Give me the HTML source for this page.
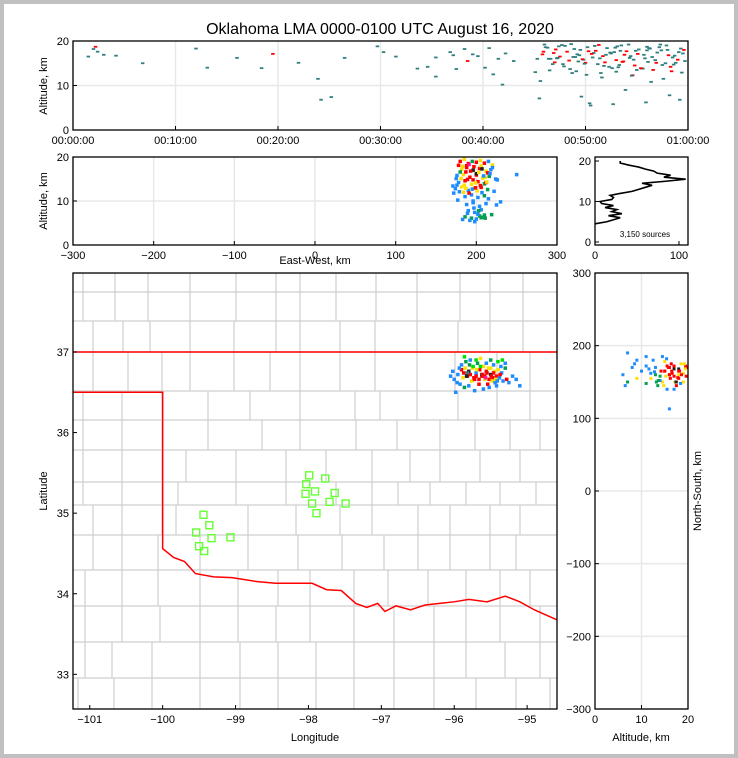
<!DOCTYPE html>
<html><head><meta charset="utf-8">
<style>
html,body{margin:0;padding:0;background:#fff}
body{width:738px;height:758px;overflow:hidden}
svg{display:block;font-family:"Liberation Sans","DejaVu Sans",sans-serif}
</style></head>
<body>
<svg id="fig" width="738" height="758" viewBox="0 0 738 758" xmlns="http://www.w3.org/2000/svg">
<rect x="0" y="0" width="738" height="758" fill="#c0c0c0"/>
<rect x="4" y="4" width="730" height="750" fill="#fff"/>
<text x="380" y="34" font-size="16" text-anchor="middle" fill="#000">Oklahoma LMA 0000-0100 UTC August 16, 2020</text>
<g id="layer"></g>
</svg>
<script>
// ---------- data ----------
const palette = ["#1e8cff","#00a050","#ffe000","#ff0000","#202020","#2f7f7f","#00e000","#ff1493"];
// top panel: minutes, altitude km, colorClass
const timeMinutes = [1.5,2,2.2,2.4,3,4.2,6.8,12,13.1,16,18.4,19.5,22,23.9,24.2,25.2,26.5,29.7,30.3,31.5,33.6,34.6,35.4,35.4,36.8,37.1,37.4,38.2,38.5,39,39.5,40.2,40.6,41,41.5,41.9,42.2,43,45.1,45.5,45.8,46.3,46.6,47,47.4,47.9,48.2,48.8,49.1,49.5,50,50.4,50.8,51.2,51.7,52.1,52.6,53,53.4,53.9,54.3,54.8,55.2,55.7,56.1,56.6,57,57.5,58,58.5,59,59.5,46,47.5,48.5,49.8,51,52.3,53.5,54.6,55.8,57.2,58.4,46.8,48,49.3,50.6,52,53.2,54,55,56.3,57.8,59.2,45.3,49,51.5,53.7,56,58.8,50.5,52.8,55.5,
  45.6,46.1,46.9,47.3,47.7,48.4,48.9,49.4,49.9,50.3,50.9,51.4,51.9,52.4,52.9,53.3,53.8,54.2,54.7,55.1,55.6,56.0,56.5,56.9,57.4,57.9,58.3,58.7,59.3,59.7,45.9,46.4,47.1,47.8,48.6,49.2,49.7,50.2,50.7,51.3,51.8,52.5,53.1,53.6,54.4,54.9,55.4,56.2,56.8,57.3,58.1,58.6,59.1,59.6,47.2,48.7,50.1,51.6,53.0,54.5,56.4,57.6,59.4,46.5,49.6,52.7,55.9,58.2];
const timeAlt = [16.5,18.2,18.7,17.6,16.9,16.7,15,18.3,14,16.2,13.9,17.1,15.1,11.5,6.8,7.4,16.2,18.8,17.5,16.5,13.8,14.2,16.3,12,17.5,16.8,13.7,18.2,15.5,17,16.6,14,18.4,12.5,16,10.2,17.2,15.5,13,7.1,17,18.5,16,15.2,18.8,14.3,17.6,16.4,13.2,18,15.1,6,17.3,14.8,16.6,18.4,13.9,15.7,17.8,9,16.2,14.5,18.1,16.9,15.3,13.5,17.4,14.6,18,16.3,15.8,17.2,19.2,16.5,13.7,15.8,17.8,14.2,19,12.3,16.1,18.6,13.2,14.8,18.9,15.4,17.1,16.9,14.1,17.7,13.5,18.3,15,6.8,16,16.4,12.8,15.4,17.9,15.1,5.5,17.5,13.8,11,
  18.6,17.3,16.2,19.1,15.6,18.2,16.8,14.9,17.7,18.9,16.1,15.2,17.4,18.5,14.6,16.9,19.2,15.8,17.1,13.8,18.7,16.4,15.1,17.9,19.0,14.2,16.7,18.3,15.5,17.6,16.0,18.1,14.8,19.3,17.0,15.9,18.6,16.3,19.1,14.4,17.2,18.8,15.3,16.6,17.8,13.9,18.4,15.7,19.2,16.8,14.7,17.5,18.0,16.1,12.8,12.4,11.8,13.1,12.2,10.8,11.5,12.9,13.4,7.5,5.8,6.2,7.8,5.5];
const timeColor = [5,5,3,5,5,5,5,5,5,5,5,3,5,5,5,5,5,5,5,5,5,5,5,5,5,5,5,5,3,5,5,5,5,5,5,5,5,5,5,5,3,5,5,3,5,5,3,5,5,5,3,5,5,5,3,5,5,3,5,5,5,3,5,5,5,3,5,5,5,5,3,5,5,3,5,5,3,5,5,3,5,5,3,5,5,5,3,5,5,3,5,5,5,5,5,5,5,3,5,5,5,5,3,5,
  5,3,5,5,3,5,5,5,3,5,5,3,5,5,5,3,5,5,3,5,5,5,3,5,5,3,5,5,5,3,5,3,5,5,5,3,5,5,3,5,5,5,3,5,5,3,5,5,5,3,5,5,3,5,5,5,5,5,5,5,5,5,5,5,5,5,5,5];
// east-west vs altitude
const ewKm = [180,185,190,195,200,205,210,215,220,182,188,196,204,212,218,176,184,192,200,208,216,224,178,186,194,202,210,174,182,190,198,206,214,222,186,194,202,210,188,196,204,212,190,198,206,186,194,200,208,192,198,204,210,196,202,206,230,250,172,226,180,200,214,188,206,196,184,212,176,220,
  178,183,187,191,197,203,207,211,217,181,189,193,199,205,209,213,179,185,191,195,201,207,215,171,175,189,203,219,225,183,197,211,177,187,199];
const ewAlt = [19,19.5,18.5,19,18.8,19.2,18.6,19,18.2,17.2,17.6,17,17.4,16.8,17.1,15.8,16,15.4,15.9,15.2,15.6,15,14.2,14.6,13.8,14.4,13.9,12.8,13.2,12.4,12.9,13.1,12.6,12.2,11,11.4,10.8,11.2,9.2,9.6,8.8,9.4,7.8,7.4,8,6.4,6.1,5.9,6.3,5.6,5.3,6.6,6.8,10,7,6.2,9.8,16,11.8,14.8,16.6,16.2,16.4,18,18,14.8,12,14.2,13.6,17.6,
  18.1,17.9,16.6,18.3,17.8,16.5,17.3,15.4,16.2,15.1,14.9,16.8,14.1,13.5,15.7,14.3,12.1,13.6,11.8,12.7,12.3,11.9,10.5,13.4,15.1,7.2,7.8,6.9,9.1,5.8,8.4,6.1,10.2,12.9,13.0];
const ewColor = [3,2,3,1,3,2,3,0,2,2,3,4,3,2,0,0,2,3,3,2,1,0,0,3,2,3,1,0,2,0,2,3,1,0,0,0,0,1,0,0,0,0,0,0,0,1,1,0,1,0,0,1,1,0,0,1,0,0,0,0,1,4,3,3,2,3,2,3,0,0,
  3,2,3,7,3,2,4,2,0,2,3,3,2,3,0,2,0,2,3,0,2,0,0,0,0,0,1,1,0,0,0,1,0,2,3];
// histogram
const histAlt = [4.5,5,5.5,6,6.5,7,7.5,8,8.5,9,9.5,10,10.5,11,11.5,12,12.5,13,13.5,14,14.5,15,15.5,16,16.5,17,17.5,18,18.5,19,19.5,20];
const histCount = [0,14,22,30,16,32,20,26,12,22,8,6,20,22,18,30,44,52,60,68,56,84,108,82,90,74,70,60,52,40,30,30];
const totalSources = "3,150 sources";
// plan view
const mapLon = [-95.9,-95.85,-95.8,-95.78,-95.75,-95.7,-95.68,-95.65,-95.62,-95.6,-95.55,-95.52,-95.5,-95.47,-95.45,-95.42,-95.4,-95.35,-95.3,-95.28,-95.95,-95.88,-95.82,-95.76,-95.72,-95.66,-95.58,-95.54,-95.48,-95.44,-95.38,-95.33,-95.9,-95.84,-95.78,-95.7,-95.64,-95.56,-95.5,-95.46,-95.4,-95.36,-96.0,-95.92,-95.86,-95.8,-95.6,-95.52,-95.42,-95.25,-95.2,-95.7,-95.62,-95.56,-95.46,-96.02,-95.96,-95.74,-95.5,-95.58,-95.66,-95.82,-95.3,-95.86,
  -95.87,-95.83,-95.73,-95.69,-95.61,-95.57,-95.49,-95.43,-95.37,-95.93,-95.79,-95.64,-95.53,-95.41,-96.05,-95.15,-95.1,-95.98,-95.72,-95.34];
const mapLat = [36.78,36.8,36.76,36.72,36.8,36.74,36.86,36.78,36.7,36.82,36.74,36.66,36.72,36.68,36.76,36.7,36.78,36.74,36.8,36.66,36.72,36.68,36.7,36.64,36.66,36.6,36.66,36.6,36.64,36.62,36.68,36.64,36.84,36.88,36.9,36.9,36.92,36.86,36.9,36.84,36.88,36.82,36.66,36.6,36.56,36.58,36.54,36.56,36.58,36.62,36.7,36.7,36.72,36.76,36.74,36.76,36.62,36.82,36.8,36.7,36.66,36.74,36.86,36.94,
  36.74,36.7,36.68,36.78,36.72,36.68,36.7,36.66,36.72,36.8,36.84,36.82,36.8,36.64,36.7,36.66,36.58,36.5,36.52,36.9];
const mapColor = [3,2,4,3,2,0,1,3,3,2,3,3,4,3,2,3,2,0,1,3,0,2,3,2,3,3,2,3,2,0,0,0,0,1,0,6,2,0,1,0,6,0,0,0,1,0,0,0,0,0,0,3,4,3,3,0,0,6,2,3,3,5,0,6,
  3,4,3,2,3,7,3,2,3,0,1,6,2,0,0,0,0,0,0,6];
// north-south vs altitude
const nsAlt = [6,7,8,9,10,11,12,13,14,15,16,17,18,19,19.5,6.5,8.5,12.5,14.5,15.5,16.5,17.5,18.5,13,14,15,16,17,18,19,15,16,17,18,16.2,17.2,18.2,19.2,7,9,11,13.5,15.5,17.5,11,12,16,18,19.8,14.5,
  14.2,15.2,16.6,17.4,18.6,19.4,13.6,15.8,17.8,12.8,14.8,16.4,18.4,19.6,11.6,13.2,15.4,17.0];
const nsKm = [160,150,170,155,165,148,162,170,158,165,160,168,155,162,172,145,175,180,150,172,165,150,175,160,152,178,170,158,168,150,165,160,172,160,155,150,165,175,190,180,185,145,140,145,172,155,113,165,170,185,
  165,158,162,150,160,168,152,170,156,164,145,175,148,158,168,150,182,140];
const nsColor = [0,1,0,2,0,1,0,0,1,3,3,4,3,2,3,0,0,0,2,3,3,3,2,1,0,2,3,3,4,2,3,3,3,2,3,2,3,2,0,0,0,1,0,3,0,2,0,3,3,0,
  3,2,3,4,3,2,1,3,3,0,2,3,0,3,0,1,0,0];
// stations
const stationLon = [-99.44,-99.36,-99.54,-99.33,-99.50,-99.43,-99.07,-97.99,-97.77,-98.03,-97.91,-98.04,-97.64,-97.95,-97.71,-97.49,-97.89];
const stationLat = [34.98,34.85,34.76,34.69,34.59,34.53,34.70,35.47,35.43,35.36,35.27,35.24,35.25,35.12,35.14,35.12,35.00];
// tick labels
const timeTicks = ["00:00:00","00:10:00","00:20:00","00:30:00","00:40:00","00:50:00","01:00:00"];
const altTicks = [0,10,20];
const ewTicks = [-300,-200,-100,0,100,200,300];
const histTicks = [0,100];
const lonTicks = [-101,-100,-99,-98,-97,-96,-95];
const latTicks = [33,34,35,36,37];
const nsTicks = [-300,-200,-100,0,100,200,300];
const altTicks2 = [0,10,20];

// ---------- helpers ----------
const NS = "http://www.w3.org/2000/svg";
const layer = document.getElementById("layer");
function mk(tag, attrs, parent) {
  const e = document.createElementNS(NS, tag);
  for (const k in attrs) e.setAttribute(k, attrs[k]);
  (parent || layer).appendChild(e);
  return e;
}
function lin(d0, d1, r0, r1) { return v => r0 + (v - d0) * (r1 - r0) / (d1 - d0); }
function txt(x, y, s, anchor, parent, name, size, rot) {
  const t = mk("text", {x: x, y: y, "font-size": size || 11, "text-anchor": anchor || "middle", fill: "#000"}, parent);
  if (rot) t.setAttribute("transform", "rotate(-90 " + x + " " + y + ")");
  t.textContent = s;
  
  
  return t;
}
function frame(x0, y0, x1, y1, name) {
  const r = mk("rect", {x: x0, y: y0, width: x1 - x0, height: y1 - y0, fill: "none", stroke: "#000", "stroke-width": 1.3});
  
  
}
function grid(x0, y0, x1, y1, xs, ys, g) {
  xs.forEach(x => { const l = mk("line", {x1: x, y1: y0, x2: x, y2: y1, stroke: "#e8e8e8", "stroke-width": 1.5}, g);
      });
  ys.forEach(y => { const l = mk("line", {x1: x0, y1: y, x2: x1, y2: y, stroke: "#e8e8e8", "stroke-width": 1.5}, g);
      });
}
function tickX(xs, y, labels, g) {
  xs.forEach((x, i) => {
    const l = mk("line", {x1: x, y1: y, x2: x, y2: y - 4, stroke: "#000"}, g);
     
    txt(x, y + 14, labels[i], "middle", g, "x-tick-label");
  });
}
function tickY(ys, x, labels, g) {
  ys.forEach((y, i) => {
    const l = mk("line", {x1: x, y1: y, x2: x + 4, y2: y, stroke: "#000"}, g);
     
    txt(x - 4, y + 4, labels[i], "end", g, "y-tick-label");
  });
}
function dot(x, y, w, h, color, g, name) {
  const r = mk("rect", {x: x - w / 2, y: y - h / 2, width: w, height: h, fill: color}, g);
  
  
}

// ---------- panel 1: time-height ----------
(function(){
  const g = mk("g", {});  
  const X = lin(0, 60, 73, 688), Y = lin(0, 20, 130, 41);
  grid(73, 41, 688, 130, timeTicks.map((_, i) => X(i * 10)), [Y(10)], g);
  timeMinutes.forEach((t, i) => dot(X(t), Y(timeAlt[i]), 3.5, 1.8, palette[timeColor[i]], g, "time-source-point"));
  frame(73, 41, 688, 130, "time-height-axes");
  tickX(timeTicks.map((_, i) => X(i * 10)), 130, timeTicks, g);
  tickY(altTicks.map(Y), 73, altTicks, g);
  txt(47, 86, "Altitude, km", "middle", g, "y-axis-title-time", 11, true);
})();

// ---------- panel 2: east-west vs altitude ----------
(function(){
  const g = mk("g", {});  
  const X = lin(-300, 300, 73, 557), Y = lin(0, 20, 245, 157);
  grid(73, 157, 557, 245, ewTicks.map(X), [Y(10)], g);
  ewKm.forEach((v, i) => dot(X(v), Y(ewAlt[i]), 3.5, 3.5, palette[ewColor[i]], g, "ew-source-point"));
  frame(73, 157, 557, 245, "ew-height-axes");
  tickX(ewTicks.map(X), 245, ewTicks.map(v => v < 0 ? "\u2212" + (-v) : "" + v), g);
  tickY(altTicks.map(Y), 73, altTicks, g);
  txt(47, 201, "Altitude, km", "middle", g, "y-axis-title-ew", 11, true);
  txt(315, 264, "East-West, km", "middle", g, "x-axis-title-ew", 11);
})();

// ---------- panel 3: histogram ----------
(function(){
  const g = mk("g", {});  
  const X = lin(0, 100, 595, 679), Y = lin(0, 20, 242, 161);
  const pts = histAlt.map((a, i) => X(histCount[i]) + "," + Y(a)).join(" ");
  const pl = mk("polyline", {points: pts, fill: "none", stroke: "#000", "stroke-width": 1.6}, g);
   
  frame(595, 157, 688, 245, "histogram-axes");
  tickX(histTicks.map(X), 245, histTicks, g);
  tickY(altTicks.map(Y), 595, altTicks, g);
  txt(645, 237, totalSources, "middle", g, "source-count-label", 8);
})();

// ---------- panel 4: map ----------
(function(){
  const g = mk("g", {});  
  const X = lin(-101.23, -94.59, 73, 557), Y = lin(32.57, 37.98, 709, 273);
  const clip = mk("clipPath", {id: "mapclip"}, g);
  mk("rect", {x: 73, y: 273, width: 484, height: 436}, clip);
  const cg = mk("g", {"clip-path": "url(#mapclip)"}, g);
  const rows = [[273,292,[83,115,148,190,236,276,300,336,376,417,460,490,523]],[292,321,[83,115,148,190,236,276,300,336,376,417,460,490,523]],[321,352,[93,123,150,190,234,276,300,340,375,417,458,490,523]],
    [352,391,[93,128,162,190,234,270,300,340,375,417,455,497,530]],[391,420,[83,122,162,208,250,300,355,380,417,458,497,530]],[420,450,[83,122,162,208,262,300,356,397,440,475,510,540]],
    [450,482,[83,122,162,186,236,286,326,372,410,440,480,520]],[482,505,[83,122,162,178,236,286,336,372,398,430,466,500,536]],[505,535,[93,122,162,176,248,296,340,372,418,450,490,520]],
    [535,570,[93,122,158,200,248,298,342,384,418,450,490,516]],[570,606,[85,122,158,200,238,278,310,354,388,428,466,500,530]],[606,642,[85,122,160,200,238,276,310,354,394,434,466,500,540]],
    [642,678,[85,112,152,200,240,278,316,354,394,434,466,505,540]],[678,709,[78,114,152,200,240,278,316,354,394,434,476,516,550]]];
  rows.forEach(r => {
    const h = mk("line", {x1: 73, y1: r[0], x2: 557, y2: r[0], stroke: "#cfcfcf", "stroke-width": 1.2}, cg);
     
    r[2].forEach(x => { const v = mk("line", {x1: x, y1: r[0], x2: x, y2: r[1], stroke: "#cfcfcf", "stroke-width": 1.2}, cg);
        });
  });
  const okLon = [-101.3,-100,-100,-99.85,-99.7,-99.55,-99.3,-99.05,-98.7,-98.45,-98.2,-97.95,-97.75,-97.55,-97.35,-97.2,-97.05,-96.95,-96.8,-96.6,-96.4,-96.2,-96.0,-95.8,-95.55,-95.3,-95.1,-94.9,-94.7,-94.55];
  const okLat = [36.5,36.5,34.56,34.45,34.4,34.25,34.21,34.2,34.15,34.13,34.13,34.13,34.05,34.04,33.88,33.83,33.88,33.78,33.85,33.8,33.86,33.88,33.9,33.93,33.9,33.97,33.9,33.8,33.72,33.66];
  const b = mk("polyline", {points: "73," + Y(37) + " 557," + Y(37), fill: "none", stroke: "#ff0000", "stroke-width": 1.5}, cg);
   
  const p = mk("polyline", {points: okLon.map((l, i) => X(l) + "," + Y(okLat[i])).join(" "), fill: "none", stroke: "#ff0000", "stroke-width": 1.5}, cg);
   
  stationLon.forEach((l, i) => {
    const s = mk("rect", {x: X(l) - 3.5, y: Y(stationLat[i]) - 3.5, width: 7, height: 7, fill: "none", stroke: "#66ff33", "stroke-width": 1.4}, cg);
     
  });
  mapLon.forEach((l, i) => dot(X(l), Y(mapLat[i]), 3.5, 3.5, palette[mapColor[i]], cg, "map-source-point"));
  frame(73, 273, 557, 709, "map-axes");
  tickX(lonTicks.map(X), 709, lonTicks.map(v => "\u2212" + (-v)), g);
  tickY(latTicks.map(Y), 73, latTicks, g);
  txt(47, 491, "Latitude", "middle", g, "y-axis-title-latitude", 11, true);
  txt(315, 741, "Longitude", "middle", g, "x-axis-title-longitude", 11);
})();

// ---------- panel 5: north-south vs altitude ----------
(function(){
  const g = mk("g", {});  
  const X = lin(0, 20, 595, 688), Y = lin(-300, 300, 709, 273);
  grid(595, 273, 688, 709, [X(10)], nsTicks.map(Y), g);
  nsAlt.forEach((a, i) => dot(X(a), Y(nsKm[i]), 3, 3, palette[nsColor[i]], g, "ns-source-point"));
  frame(595, 273, 688, 709, "ns-height-axes");
  tickX(altTicks2.map(X), 709, altTicks2, g);
  tickY(nsTicks.map(Y), 595, nsTicks.map(v => v < 0 ? "\u2212" + (-v) : "" + v), g);
  txt(641, 741, "Altitude, km", "middle", g, "x-axis-title-ns", 11);
  txt(701, 491, "North-South, km", "middle", g, "y-axis-title-ns", 11, true);
})();
</script>
</body></html>
